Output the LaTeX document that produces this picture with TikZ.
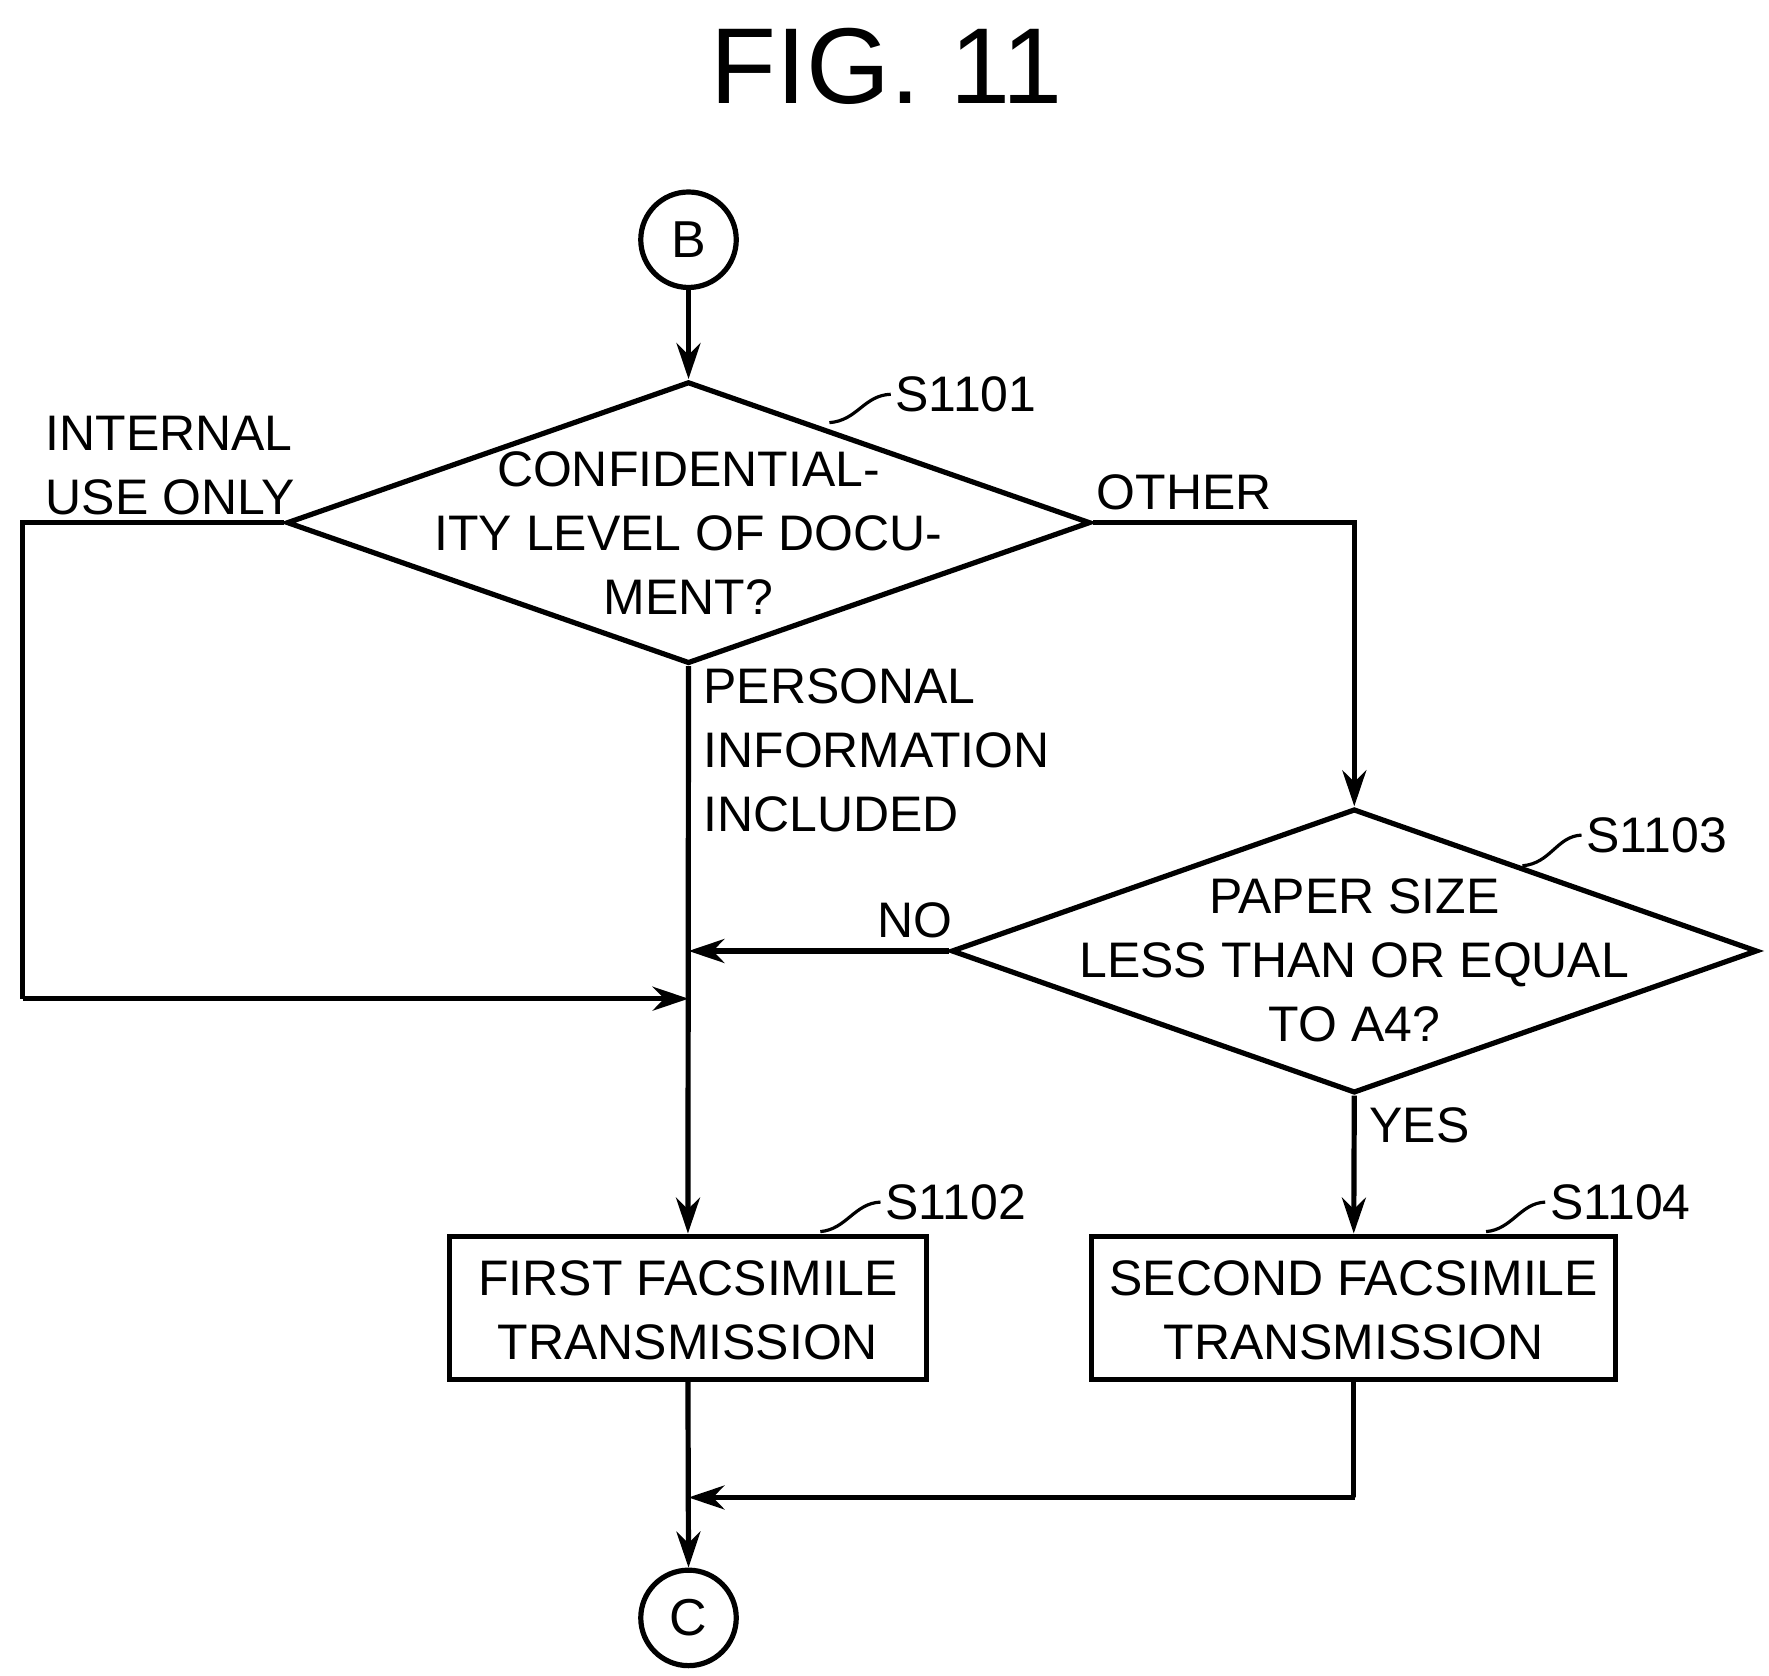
\documentclass[tikz,border=0pt]{standalone}
\usepackage{fontspec}
\setmainfont{Liberation Sans}
\usetikzlibrary{shapes.geometric,arrows.meta}
\begin{document}
\begin{tikzpicture}[x=0.01cm,y=-0.01cm,line width=1.3pt,
  txt/.style={font=\fontsize{12.5}{14}\selectfont,inner sep=0pt},
  lbl/.style={txt,align=center},
  dia/.style={draw,diamond,inner sep=0pt},
  box/.style={draw,rectangle,inner sep=0pt},
  circ/.style={draw,circle,minimum size=0.84cm,inner sep=0pt,font=\fontsize{13}{15}\selectfont},
  arr/.style={-{Stealth[length=9pt,width=6pt]}}]
\useasboundingbox (0,0) rectangle (1557,1475);
\node[font=\fontsize{27}{30}\selectfont] (title) at (780,58) {FIG. 11};
\node[circ] (B) at (606,211) {B};
\node[dia,minimum width=7.07cm,minimum height=2.48cm] (d1) at (606,460) {};
\node[lbl] (d1t) at (606,469) {CONFIDENTIAL-\\[2pt]ITY LEVEL OF DOCU-\\[2pt]MENT?};
\node[dia,minimum width=7.09cm,minimum height=2.50cm] (d2) at (1192,837) {};
\node[lbl] (d2t) at (1192,845) {PAPER SIZE\\[2pt]LESS THAN OR EQUAL\\[2pt]TO A4?};
\node[box,minimum width=4.19cm,minimum height=1.26cm] (b1) at (605.5,1151) {};
\node[lbl] (b1t) at (605.5,1153) {FIRST FACSIMILE\\[2pt]TRANSMISSION};
\node[box,minimum width=4.61cm,minimum height=1.26cm] (b2) at (1191.5,1151) {};
\node[lbl] (b2t) at (1191.5,1153) {SECOND FACSIMILE\\[2pt]TRANSMISSION};
\node[circ] (C) at (606,1424) {C};
% step labels
\node[txt,anchor=west] (s1) at (786,347) {S1101};
\draw[line width=0.8pt] (730,372) .. controls (755,370) and (760,348) .. (784,347);
\node[txt,anchor=west] (s3) at (1394,735) {S1103};
\draw[line width=0.8pt] (1340,762) .. controls (1365,760) and (1370,736) .. (1392,735);
\node[txt,anchor=west] (s2) at (777,1058) {S1102};
\draw[line width=0.8pt] (722,1084) .. controls (745,1082) and (752,1059) .. (775,1058);
\node[txt,anchor=west] (s4) at (1362,1058) {S1104};
\draw[line width=0.8pt] (1308,1084) .. controls (1331,1082) and (1338,1059) .. (1360,1058);
% branch labels
\node[txt,anchor=west,align=left] (iu) at (38,410) {INTERNAL\\[2pt]USE ONLY};
\node[txt,anchor=west] (oth) at (963,433) {OTHER};
\node[txt,anchor=west,align=left] (pi) at (617,660) {PERSONAL\\[2pt]INFORMATION\\[2pt]INCLUDED};
\node[txt] (no) at (805,810) {NO};
\node[txt,anchor=west] (yes) at (1203,990) {YES};
% connectors
\coordinate (j1) at (606,879);
\coordinate (j2) at (606,837);
\coordinate (j3) at (606,1318);
\draw[arr] (B) -- (d1.north);
\draw (d1.west) -- (20,460) -- (20,879);
\draw[arr] (20,879) -- (j1);
\draw[arr] (d1.east) -| (d2.north);
\draw[arr] (d2.west) -- (j2);
\draw[arr] (d1.south) -- (b1.north);
\draw[arr] (d2.south) -- (b2.north);
\draw[arr] (b1.south) -- (C.north);
\draw (b2.south) |- (1192,1318);
\draw[arr] (1192,1318) -- (j3);
\end{tikzpicture}
\end{document}
